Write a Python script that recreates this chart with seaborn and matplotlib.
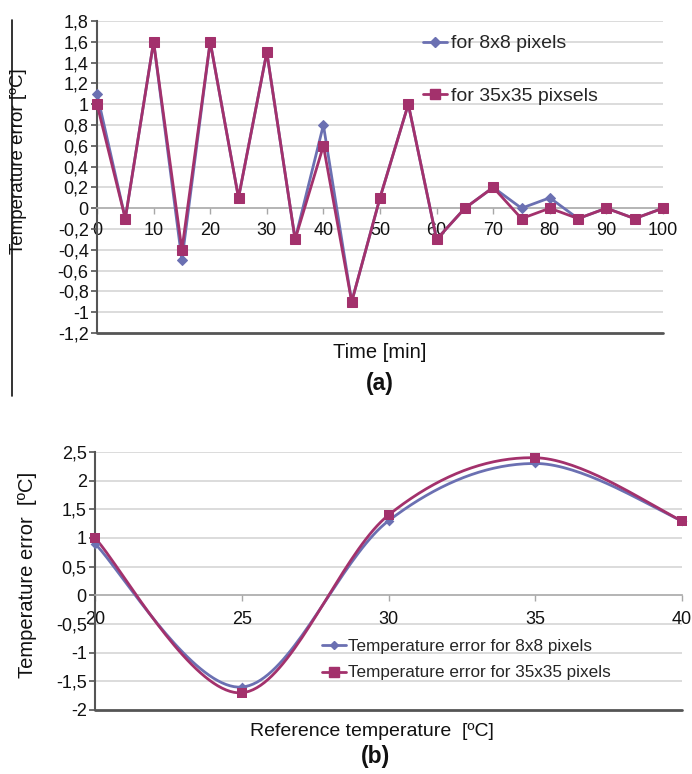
import numpy as np
import pandas as pd
import matplotlib
matplotlib.use('Agg')
import matplotlib.pyplot as plt
from matplotlib.lines import Line2D
import seaborn as sns

# ── Data ─────────────────────────────────────────────────────
time_min = [0, 5, 10, 15, 20, 25, 30, 35, 40, 45, 50,
            55, 60, 65, 70, 75, 80, 85, 90, 95, 100]
err_8x8_a = [1.1, -0.1, 1.6, -0.5, 1.6, 0.1, 1.5, -0.3, 0.8, -0.9, 0.1,
             1.0, -0.3, 0.0, 0.2, 0.0, 0.1, -0.1, 0.0, -0.1, 0.0]
err_35x35_a = [1.0, -0.1, 1.6, -0.4, 1.6, 0.1, 1.5, -0.3, 0.6, -0.9, 0.1,
               1.0, -0.3, 0.0, 0.2, -0.1, 0.0, -0.1, 0.0, -0.1, 0.0]

ref_temp = [20, 25, 30, 35, 40]
err_8x8_b = [0.9, -1.6, 1.3, 2.3, 1.3]
err_35x35_b = [1.0, -1.7, 1.4, 2.4, 1.3]

yticks_a = [1.8, 1.6, 1.4, 1.2, 1.0, 0.8, 0.6, 0.4, 0.2, 0.0,
            -0.2, -0.4, -0.6, -0.8, -1.0, -1.2]
xticks_a = [0, 10, 20, 30, 40, 50, 60, 70, 80, 90, 100]
yticks_b = [2.5, 2.0, 1.5, 1.0, 0.5, 0.0, -0.5, -1.0, -1.5, -2.0]
xticks_b = [20, 25, 30, 35, 40]

# ── Style ────────────────────────────────────────────────────
sns.set_theme(style='white')
plt.rcParams['font.family'] = ['Liberation Sans', 'DejaVu Sans']

BLUE = '#6B70B2'
MAGENTA = '#A3316C'
GRID = '#D6D6D6'
AXIS = '#555555'
TXT = '#111111'


def comma(v):
    return f'{v:g}'.replace('.', ',')


def smooth(xs, ys, n=40):
    # Excel-like smoothed line: cubic Bezier with Catmull-Rom control points
    p = np.column_stack([xs, ys]).astype(float)
    pts = []
    for i in range(len(p) - 1):
        p0 = p[max(i - 1, 0)]
        p1, p2 = p[i], p[i + 1]
        p3 = p[min(i + 2, len(p) - 1)]
        c1 = p1 + (p2 - p0) / 6
        c2 = p2 - (p3 - p1) / 6
        t = np.linspace(0, 1, n)[:, None]
        seg = ((1 - t) ** 3) * p1 + 3 * ((1 - t) ** 2) * t * c1 \
            + 3 * (1 - t) * t ** 2 * c2 + t ** 3 * p2
        pts.append(seg if i == 0 else seg[1:])
    pts = np.vstack(pts)
    return pts[:, 0], pts[:, 1]


def style_axes(ax, yticks, xticks, ymin, ymax, xmin, xmax):
    ax.set_xlim(xmin, xmax)
    ax.set_ylim(ymin, ymax)
    ax.set_yticks(yticks)
    ax.set_yticklabels([comma(v) for v in yticks])
    ax.set_xticks(xticks)
    ax.set_xticklabels([comma(v) for v in xticks])
    for y in yticks:
        if y not in (0.0, ymin):
            ax.axhline(y, color=GRID, lw=1.2, zorder=0)
    # x axis drawn at zero, dark frame line at the bottom
    ax.spines['bottom'].set_position(('data', 0))
    ax.spines['bottom'].set_color('#A8A8A8')
    ax.spines['bottom'].set_linewidth(1.2)
    ax.axhline(ymin, color=AXIS, lw=2.0, clip_on=False, zorder=1)
    ax.spines['left'].set_color(AXIS)
    ax.spines['left'].set_linewidth(1.5)
    ax.spines['top'].set_visible(False)
    ax.spines['right'].set_visible(False)
    ax.tick_params(axis='y', which='major', left=True, length=4.5, width=1.2,
                   color=AXIS, pad=1.5, labelsize=13, labelcolor=TXT)
    ax.tick_params(axis='x', which='major', bottom=True, length=4, width=1.0,
                   color='#A8A8A8', pad=6, labelsize=13, labelcolor=TXT)
    ax.grid(False)


fig = plt.figure(figsize=(6.92, 7.74), dpi=100)

# ── (a) error over time ──────────────────────────────────────
ax1 = fig.add_axes([97 / 692, 1 - 333 / 774, 566 / 692, 312 / 774])
sns.lineplot(x=time_min, y=err_8x8_a, ax=ax1, color=BLUE, lw=2.0,
             marker='D', markersize=5, markeredgecolor=BLUE, zorder=3,
             clip_on=False)
sns.lineplot(x=time_min, y=err_35x35_a, ax=ax1, color=MAGENTA, lw=2.0,
             marker='s', markersize=7.5, markeredgecolor=MAGENTA, zorder=4,
             clip_on=False)
style_axes(ax1, yticks_a, xticks_a, -1.2, 1.8, 0, 100)
ax1.set_xlabel('Time [min]', fontsize=14.5, color=TXT)
ax1.xaxis.set_label_coords(0.5, -(352 - 333) / 312)
ax1.xaxis.label.set_va('center')
ax1.set_ylabel('Temperature error [ºC]', fontsize=13.5, color=TXT)
ax1.yaxis.set_label_coords((19 - 97) / 566, (333 - 161) / 312)
ax1.yaxis.label.set_va('center')

handles_a = [
    Line2D([], [], color=BLUE, lw=2.0, marker='D', markersize=5),
    Line2D([], [], color=MAGENTA, lw=2.0, marker='s', markersize=7.5),
]
fig.legend(handles_a, ['for 8x8 pixels', 'for 35x35 pixsels'],
           loc='upper left', bbox_to_anchor=(413 / 692, 1 - 25 / 774),
           frameon=False, fontsize=14, handlelength=1.25, handletextpad=0.2,
           labelspacing=1.8, borderpad=0)

fig.text(380 / 692, 1 - 383 / 774, '(a)', ha='center', va='center',
         fontsize=16.5, fontweight='bold', color=TXT)
fig.add_artist(Line2D([12 / 692, 12 / 692], [1 - 20 / 774, 1 - 396 / 774],
                      color=TXT, lw=1.2))

# ── (b) error vs reference temperature ───────────────────────
ax2 = fig.add_axes([95 / 692, 1 - 710 / 774, 587 / 692, 258 / 774])
for ys, col, mk, ms in [(err_8x8_b, BLUE, 'D', 5), (err_35x35_b, MAGENTA, 's', 7.5)]:
    sx, sy = smooth(ref_temp, ys)
    sns.lineplot(x=sx, y=sy, ax=ax2, color=col, lw=2.0, sort=False,
                 estimator=None, zorder=3)
    sns.scatterplot(x=ref_temp, y=ys, ax=ax2, color=col, marker=mk,
                    s=ms ** 2, edgecolor=col, linewidth=0, zorder=4,
                    clip_on=False)
style_axes(ax2, yticks_b, xticks_b, -2.0, 2.5, 20, 40)
ax2.tick_params(axis='x', pad=7.5)
ax2.set_xlabel('Reference temperature  [ºC]', fontsize=14, color=TXT)
ax2.xaxis.set_label_coords((372 - 95) / 587, -(731 - 710) / 258)
ax2.xaxis.label.set_va('center')
ax2.set_ylabel('Temperature error  [ºC]', fontsize=14.5, color=TXT)
ax2.yaxis.set_label_coords((28 - 95) / 587, (710 - 575) / 258)
ax2.yaxis.label.set_va('center')

handles_b = [
    Line2D([], [], color=BLUE, lw=2.0, marker='D', markersize=4),
    Line2D([], [], color=MAGENTA, lw=2.0, marker='s', markersize=6.5),
]
ax2.legend(handles_b, ['Temperature error for 8x8 pixels',
                       'Temperature error for 35x35 pixels'],
           loc='upper left', bbox_to_anchor=(313 / 692, 1 - 630 / 774),
           bbox_transform=fig.transFigure, frameon=False, fontsize=12.3,
           handlelength=1.45, handletextpad=0.1, labelspacing=0.7, borderpad=0)

fig.text(375 / 692, 1 - 757 / 774, '(b)', ha='center', va='center',
         fontsize=16.5, fontweight='bold', color=TXT)

fig.savefig('out.png', dpi=100, facecolor='white')
